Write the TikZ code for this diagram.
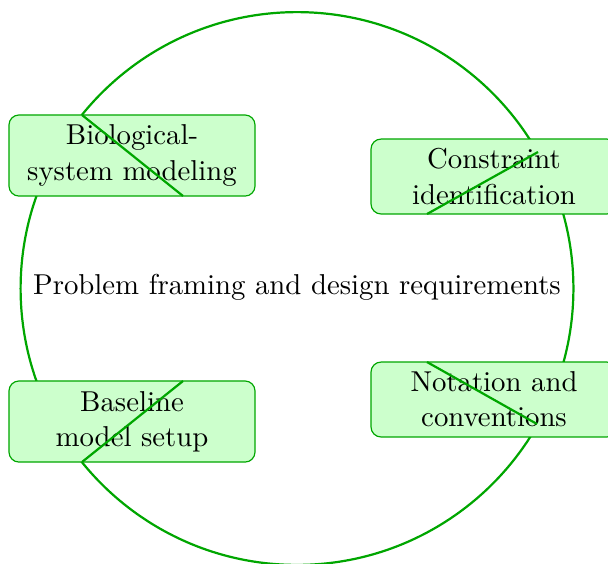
\documentclass[tikz,border=0pt]{standalone}
\begin{document}
\begin{tikzpicture}[x=0.339pt,y=-0.339pt,
  ring/.style={draw=green!65!black,line width=0.75pt},
  stage/.style={draw=green!65!black,fill=green!20,line width=0.4pt,rounded corners=3.4pt,
    align=center,minimum width=83.4pt,inner sep=0pt,font=\fontsize{9.75}{11.9}\selectfont},
  chord/.style={draw=green!65!black,line width=0.75pt}]
\useasboundingbox (0,0) rectangle (608,563);
\clip (0,0) rectangle (608,563);
% outer cycle
\coordinate (c) at (297,288.5);
\draw[ring] (c) circle [radius=93.7pt];
% stages on the cycle
\node[stage,minimum height=27.5pt] (bio) at (132,155.5) {Biological-\\system modeling};
\node[stage,minimum height=25.4pt] (con) at (494,176.5) {Constraint\\identification};
\node[stage,minimum height=27.5pt] (base) at (132,421.5) {Baseline\\model setup};
\node[stage,minimum height=25.4pt] (nota) at (494,399.5) {Notation and\\conventions};
% centre label
\node[font=\fontsize{9.75}{11.9}\selectfont] (title) at (297,287) {Problem framing and design requirements};
% chords crossing the stages
\coordinate (b1) at (82,115);  \coordinate (b2) at (183,196);
\coordinate (c1) at (538,152); \coordinate (c2) at (427,214);
\coordinate (d1) at (183,381); \coordinate (d2) at (82,462);
\coordinate (n1) at (427,362); \coordinate (n2) at (537,424);
\draw[chord] (b1) -- (b2);
\draw[chord] (c1) -- (c2);
\draw[chord] (d1) -- (d2);
\draw[chord] (n1) -- (n2);
\end{tikzpicture}
\end{document}
